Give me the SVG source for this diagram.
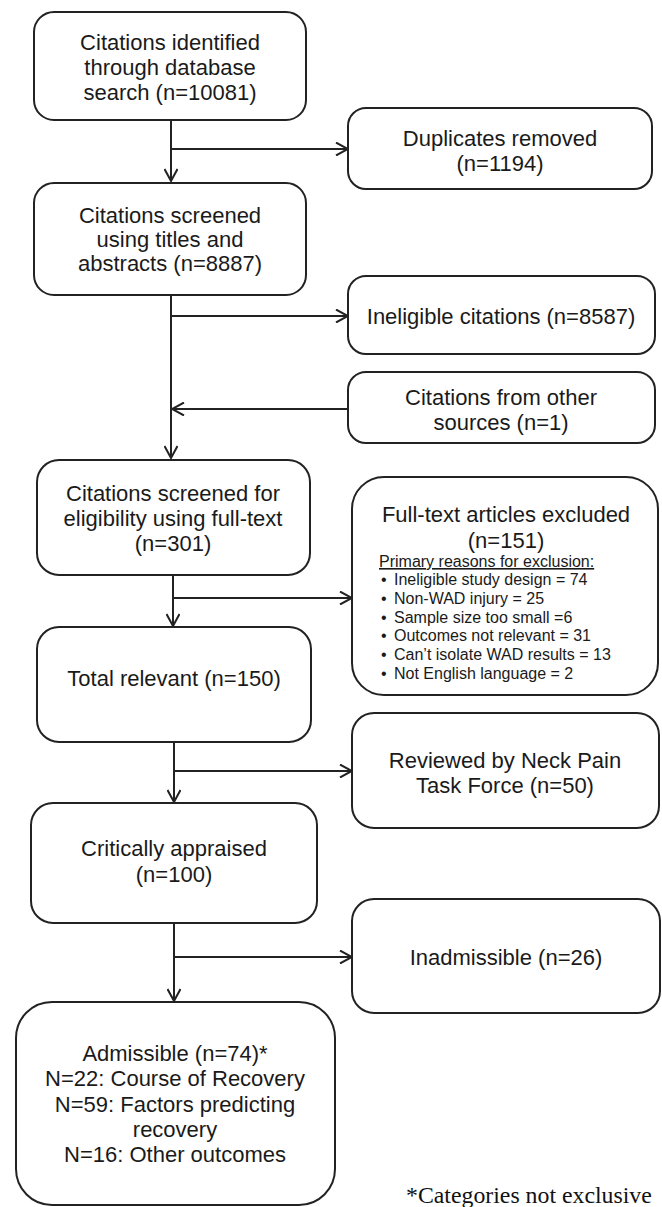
<svg xmlns="http://www.w3.org/2000/svg" width="662" height="1207" viewBox="0 0 662 1207">
<style>
.box{fill:#fff;stroke:#222;stroke-width:2}
.t{font-family:"Liberation Sans",Arial,sans-serif;font-size:22px;fill:#1a1a1a;text-anchor:middle}
.s{font-family:"Liberation Sans",Arial,sans-serif;font-size:16px;fill:#1a1a1a}
.fn{font-family:"Liberation Serif","Times New Roman",serif;font-size:23.8px;fill:#111}
.c{fill:none;stroke:#222;stroke-width:2}
</style>
<defs>
<marker id="ah" viewBox="0 0 14 14" refX="13" refY="7" markerWidth="14" markerHeight="14" markerUnits="userSpaceOnUse" orient="auto">
<path d="M1,0.5 L13,7 L1,13.5" fill="none" stroke="#222" stroke-width="2"/>
</marker>
</defs>
<rect width="662" height="1207" fill="#fff"/>
<g id="connectors">
<path class="c" d="M171,120 V181" marker-end="url(#ah)"/>
<path class="c" d="M171,149 H348" marker-end="url(#ah)"/>
<path class="c" d="M171,295 V458" marker-end="url(#ah)"/>
<path class="c" d="M171,316 H348" marker-end="url(#ah)"/>
<path class="c" d="M348,409 H172" marker-end="url(#ah)"/>
<path class="c" d="M173,575 V626" marker-end="url(#ah)"/>
<path class="c" d="M173,598 H352" marker-end="url(#ah)"/>
<path class="c" d="M174,742 V802" marker-end="url(#ah)"/>
<path class="c" d="M174,771 H352" marker-end="url(#ah)"/>
<path class="c" d="M174,923 V1001" marker-end="url(#ah)"/>
<path class="c" d="M174,957 H352" marker-end="url(#ah)"/>
</g>
<g id="n1"><rect class="box" x="34" y="12" width="272" height="108" rx="20"/>
<text class="t" x="170" y="50">Citations identified</text>
<text class="t" x="170" y="75">through database</text>
<text class="t" x="170" y="100">search (n=10081)</text></g>
<g id="n2"><rect class="box" x="348" y="108" width="304" height="81" rx="18"/>
<text class="t" x="500" y="146">Duplicates removed</text>
<text class="t" x="500" y="171">(n=1194)</text></g>
<g id="n3"><rect class="box" x="34" y="183" width="272" height="112" rx="20"/>
<text class="t" x="170" y="223">Citations screened</text>
<text class="t" x="170" y="247">using titles and</text>
<text class="t" x="170" y="271">abstracts (n=8887)</text></g>
<g id="n4"><rect class="box" x="348" y="276" width="307" height="78" rx="18"/>
<text class="t" x="501" y="324">Ineligible citations (n=8587)</text></g>
<g id="n5"><rect class="box" x="348" y="372" width="307" height="71" rx="18"/>
<text class="t" x="501" y="405">Citations from other</text>
<text class="t" x="501" y="430">sources (n=1)</text></g>
<g id="n6"><rect class="box" x="37" y="460" width="273" height="115" rx="22"/>
<text class="t" x="173" y="501">Citations screened for</text>
<text class="t" x="173" y="526">eligibility using full-text</text>
<text class="t" x="173" y="551">(n=301)</text></g>
<g id="n7"><rect class="box" x="352" y="477" width="306" height="218" rx="32"/>
<text class="t" x="506" y="522">Full-text articles excluded</text>
<text class="t" x="506" y="548">(n=151)</text>
<text class="s" x="379" y="567" text-decoration="underline">Primary reasons for exclusion:</text>
<text class="s" x="381" y="585">•</text><text class="s" x="394" y="585">Ineligible study design = 74</text>
<text class="s" x="381" y="604">•</text><text class="s" x="394" y="604">Non-WAD injury = 25</text>
<text class="s" x="381" y="623">•</text><text class="s" x="394" y="623">Sample size too small =6</text>
<text class="s" x="381" y="641">•</text><text class="s" x="394" y="641">Outcomes not relevant = 31</text>
<text class="s" x="381" y="660">•</text><text class="s" x="394" y="660">Can’t isolate WAD results = 13</text>
<text class="s" x="381" y="679">•</text><text class="s" x="394" y="679">Not English language = 2</text></g>
<g id="n8"><rect class="box" x="37" y="627" width="274" height="115" rx="22"/>
<text class="t" x="174" y="686">Total relevant (n=150)</text></g>
<g id="n9"><rect class="box" x="352" y="713" width="307" height="115" rx="22"/>
<text class="t" x="505" y="768">Reviewed by Neck Pain</text>
<text class="t" x="505" y="793">Task Force (n=50)</text></g>
<g id="n10"><rect class="box" x="31" y="803" width="286" height="120" rx="22"/>
<text class="t" x="174" y="856">Critically appraised</text>
<text class="t" x="174" y="882">(n=100)</text></g>
<g id="n11"><rect class="box" x="352" y="899" width="308" height="114" rx="22"/>
<text class="t" x="506" y="965">Inadmissible (n=26)</text></g>
<g id="n12"><rect class="box" x="16" y="1002" width="319" height="203" rx="36"/>
<text class="t" x="175" y="1061">Admissible (n=74)*</text>
<text class="t" x="175" y="1086">N=22: Course of Recovery</text>
<text class="t" x="175" y="1112">N=59: Factors predicting</text>
<text class="t" x="175" y="1137">recovery</text>
<text class="t" x="175" y="1162">N=16: Other outcomes</text></g>
<text class="fn" x="406" y="1203">*Categories not exclusive</text>
</svg>
